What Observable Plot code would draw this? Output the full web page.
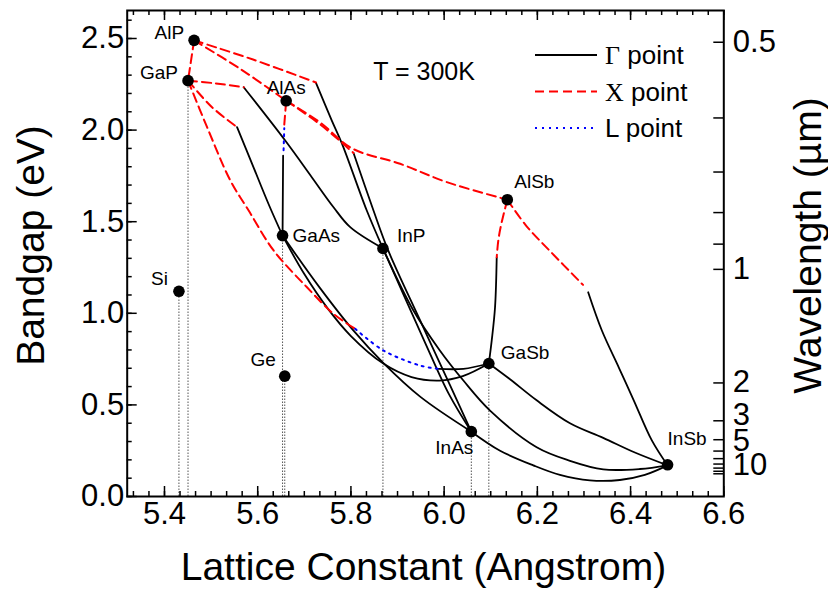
<!DOCTYPE html>
<html><head><meta charset="utf-8">
<script src="https://cdn.jsdelivr.net/npm/d3@7"></script>
<script src="https://cdn.jsdelivr.net/npm/@observablehq/plot@0.6"></script>
<style>body{margin:0;background:#fff}</style>
</head><body><div id="chart"></div>
<script>
// ---------- Binary compounds (lattice constant Å, bandgap eV at 300 K) ----------
const compounds = ["AlP","GaP","AlAs","GaAs","InP","AlSb","GaSb","InAs","InSb","Si","Ge"];
const latticeA  = [5.4635,5.4505,5.6611,5.6533,5.8687,6.1355,6.0959,6.0583,6.4794,5.431,5.658];
const gapEV     = [2.49,2.27,2.16,1.424,1.354,1.62,0.726,0.354,0.173,1.12,0.657];
const dropLines = ["Si","GaP","GaAs","Ge","InP","InAs","GaSb"];

// ---------- Ternary alloy curves: [lattice constant, bandgap] ----------
const AlGaP_X  = [[5.4635,2.49],[5.4505,2.27]];
const AlPAs_X  = [[5.4635,2.49],[5.565,2.33],[5.6611,2.16]];
const AlInP_X  = [[5.4635,2.49],[5.59,2.385],[5.725,2.26]];
const AlInP_G  = [[5.725,2.258],[5.759,2.052],[5.781,1.925],[5.834,1.561],[5.8687,1.354]];
const GaInP_X  = [[5.4505,2.27],[5.51,2.255],[5.570,2.234]];
const GaInP_G  = [[5.570,2.234],[5.659,1.943],[5.716,1.743],[5.7627,1.579],[5.7985,1.470],[5.8687,1.354]];
const GaAsP_X  = [[5.4505,2.27],[5.502,2.125],[5.5557,2.016]];
const GaAsP_G  = [[5.5557,2.016],[5.588,1.816],[5.623,1.598],[5.6533,1.424]];
const GaPSb_X  = [[5.4505,2.27],[5.4914,2.016],[5.5413,1.725],[5.5806,1.561],[5.6341,1.343],[5.7057,1.142],[5.7627,0.997],[5.8092,0.915]];
const GaPSb_L  = [[5.8092,0.915],[5.8698,0.797],[5.9485,0.715],[5.9877,0.697]];
const GaPSb_G  = [[5.9877,0.697],[6.0412,0.697],[6.0959,0.726]];
const AlGaAs_G = [[5.6533,1.424],[5.6545,1.86]];
const AlGaAs_L = [[5.6555,1.89],[5.657,2.01]];
const AlGaAs_X = [[5.657,2.03],[5.6611,2.16]];
const AlInAs_X = [[5.6611,2.16],[5.734,2.031],[5.8056,1.875]];
const AlInAs_G = [[5.8056,1.875],[5.8484,1.561],[5.8800,1.343],[5.9485,0.961],[6.0128,0.606],[6.0583,0.354]];
const AlAsSb_X = [[5.6611,2.16],[5.7342,2.041],[5.8027,1.90],[5.9056,1.816],[6.0057,1.716],[6.1355,1.62]];
const InPAs_G  = [[5.8687,1.354],[5.915,1.09],[5.96,0.835],[6.01,0.56],[6.0583,0.354]];
const InPSb_G  = [[5.8687,1.354],[5.9341,1.015],[5.99,0.80],[6.0413,0.633],[6.0985,0.469],[6.1985,0.269],[6.27,0.195],[6.3413,0.148],[6.42,0.15],[6.4794,0.17]];
const InAsSb_G = [[6.0583,0.354],[6.12,0.25],[6.1913,0.17],[6.2484,0.118],[6.3127,0.088],[6.377,0.09],[6.4306,0.118],[6.4794,0.17]];
const GaInAs_G = [[5.6533,1.424],[5.7342,1.136],[5.8056,0.905],[5.8698,0.728],[5.9485,0.545],[6.0583,0.354]];
const GaAsSb_G = [[5.6533,1.424],[5.70,1.214],[5.75,1.027],[5.80,0.876],[5.8687,0.727],[5.93,0.652],[5.99,0.633],[6.04,0.657],[6.0959,0.726]];
const GaInSb_G = [[6.0959,0.726],[6.1413,0.64],[6.1985,0.525],[6.27,0.40],[6.3413,0.32],[6.4092,0.24],[6.4794,0.17]];
const AlGaSb_X = [[6.1355,1.62],[6.122,1.48],[6.1162,1.397],[6.1128,1.306]];
const AlGaSb_G = [[6.1128,1.306],[6.1092,1.033],[6.1021,0.852],[6.0959,0.726]];
const AlInSb_X = [[6.1355,1.62],[6.177,1.475],[6.227,1.34],[6.298,1.155]];
const AlInSb_G = [[6.309,1.115],[6.3384,0.906],[6.3748,0.704],[6.407,0.524],[6.4456,0.306],[6.4794,0.17]];

// ---------- Axis ticks ----------
const xMajorTicks = [5.4,5.6,5.8,6.0,6.2,6.4,6.6];
const yMajorTicks = [0,0.5,1.0,1.5,2.0,2.5];
const wavelengthTicks  = [0.5,0.6,0.7,0.8,0.9,1,2,3,4,5,6,7,8,9,10];
const wavelengthLabels = [0.5,1,2,3,5,10];

// ---------- Build tables ----------
const segments = [
  ["AlGaP","X",AlGaP_X],["AlPAs","X",AlPAs_X],["AlInP","X",AlInP_X],["AlInP","G",AlInP_G],
  ["GaInP","X",GaInP_X],["GaInP","G",GaInP_G],["GaAsP","X",GaAsP_X],["GaAsP","G",GaAsP_G],
  ["GaPSb","X",GaPSb_X],["GaPSb","L",GaPSb_L],["GaPSb","G",GaPSb_G],
  ["AlGaAs","G",AlGaAs_G],["AlGaAs","L",AlGaAs_L],["AlGaAs","X",AlGaAs_X],
  ["AlInAs","X",AlInAs_X],["AlInAs","G",AlInAs_G],["AlAsSb","X",AlAsSb_X],
  ["InPAs","G",InPAs_G],["InPSb","G",InPSb_G],["InAsSb","G",InAsSb_G],
  ["GaInAs","G",GaInAs_G],["GaAsSb","G",GaAsSb_G],["GaInSb","G",GaInSb_G],
  ["AlGaSb","X",AlGaSb_X],["AlGaSb","G",AlGaSb_G],["AlInSb","X",AlInSb_X],["AlInSb","G",AlInSb_G]
];
const rows = segments.flatMap(([alloy, valley, pts]) =>
  pts.map(([a, E]) => ({id: alloy + "_" + valley, valley, a, E})));
const binaries = compounds.map((name, i) => ({name, a: latticeA[i], E: gapEV[i]}));
const drops = binaries.filter(d => dropLines.includes(d.name));

const hc = 1.2398; // eV·µm
const xMinor = d3.range(-3, 37).map(k => 5.4 + k * 0.2 / 6).filter(v => v >= 5.32 && v <= 6.6001);
const yMinor = d3.range(0, 27).map(k => k / 10);

// ---------- Layout ----------
const W = 828, H = 602, mL = 126.7, mR = 104.7, mT = 10, mB = 106;
const fw = W - mL - mR, fh = H - mT - mB;
const FONT = "Liberation Sans, Arial, Helvetica, sans-serif";

const labelStyle = {
  AlP:{dx:-10,dy:-7,anchor:"end"}, GaP:{dx:-10,dy:-8,anchor:"end"},
  AlAs:{dx:0,dy:-13,anchor:"middle"}, GaAs:{dx:10,dy:0,anchor:"start"},
  InP:{dx:14,dy:-13,anchor:"start"}, Si:{dx:-11,dy:-12,anchor:"end"},
  Ge:{dx:-9,dy:-16,anchor:"end"}, AlSb:{dx:7,dy:-18,anchor:"start"},
  GaSb:{dx:12,dy:-11,anchor:"start"}, InAs:{dx:2,dy:16,anchor:"end"},
  InSb:{dx:0,dy:-26,anchor:"start"}
};
// vertical nudges of crowded wavelength labels (as in the reference)
const wlNudge = {0.5: 0, 1: 0, 2: -1, 3: -6, 5: -10, 10: -9};

const lineMark = (valley, opts) => Plot.line(rows.filter(r => r.valley === valley),
  {x: "a", y: "E", z: "id", curve: "catmull-rom", fill: "none", ...opts});

const plot = Plot.plot({
  width: W, height: H,
  marginLeft: mL, marginRight: mR, marginTop: mT, marginBottom: mB,
  x: {domain: [5.32, 6.6], axis: null},
  y: {domain: [0, (H - mB - mT) / 183.2], axis: null},
  style: {fontFamily: FONT, background: "white"},
  marks: [
    Plot.ruleX(drops, {x: "a", y1: 0, y2: "E", stroke: "#555", strokeWidth: 1, strokeDasharray: "1.5,1.5"}),
    lineMark("G", {stroke: "black", strokeWidth: 1.8}),
    lineMark("X", {stroke: "#ff0000", strokeWidth: 2, strokeDasharray: "9,5"}),
    lineMark("L", {stroke: "#0000ff", strokeWidth: 2, strokeDasharray: "2,5"}),
    Plot.dot(binaries, {x: "a", y: "E", r: 5.8, fill: "black", stroke: "none"}),
    ...compounds.map(name => {
      const s = labelStyle[name];
      return Plot.text(binaries.filter(d => d.name === name),
        {x: "a", y: "E", text: "name", dx: s.dx, dy: s.dy, textAnchor: s.anchor, fontSize: 19, fill: "black"});
    }),
    Plot.frame({stroke: "black", strokeWidth: 2}),
    Plot.tickX(xMajorTicks, {x: d => d, insetTop: fh - 10, stroke: "black", strokeWidth: 1.5}),
    Plot.tickX(xMinor, {x: d => d, insetTop: fh - 5, stroke: "black", strokeWidth: 1.5}),
    Plot.tickX(xMajorTicks, {x: d => d, insetBottom: fh - 10, stroke: "black", strokeWidth: 1.5}),
    Plot.tickX(xMinor, {x: d => d, insetBottom: fh - 5, stroke: "black", strokeWidth: 1.5}),
    Plot.tickY(yMajorTicks, {y: d => d, insetRight: fw - 10, stroke: "black", strokeWidth: 1.5}),
    Plot.tickY(yMinor, {y: d => d, insetRight: fw - 5, stroke: "black", strokeWidth: 1.5}),
    Plot.tickY(wavelengthTicks, {y: d => hc / d, insetLeft: fw - 10, stroke: "black", strokeWidth: 1.5}),
    Plot.text(xMajorTicks, {x: d => d, frameAnchor: "bottom", dy: 27, text: d => d.toFixed(1), fontSize: 31, fill: "black"}),
    Plot.text(yMajorTicks, {y: d => d, frameAnchor: "left", dx: -3, textAnchor: "end", text: d => d.toFixed(1), fontSize: 31, fill: "black"}),
    ...wavelengthLabels.map(w => Plot.text([w], {y: d => hc / d, frameAnchor: "right", dx: 9, dy: wlNudge[w],
      textAnchor: "start", text: d => String(d), fontSize: 31, fill: "black"})),
    Plot.text(["Lattice Constant (Angstrom)"], {frameAnchor: "bottom", dy: 83, dx: -2, textAnchor: "middle", fontSize: 39, fill: "black"}),
    Plot.text(["Bandgap (eV)"], {frameAnchor: "left", dx: -96, dy: -8, textAnchor: "middle", rotate: -90, fontSize: 39, fill: "black"}),
    Plot.text(["Wavelength (µm)"], {frameAnchor: "right", dx: 85, dy: -8, textAnchor: "middle", rotate: -90, fontSize: 39, fill: "black"}),
    Plot.text(["T = 300K"], {frameAnchor: "top-left", dx: 246, dy: 52, textAnchor: "start", fontSize: 25, fill: "black"})
  ]
});

// ---------- Legend ----------
const legendItems = [
  {sym: "Γ", serif: true,  stroke: "black",   dash: null,  w: 1.8},
  {sym: "X", serif: true,  stroke: "#ff0000", dash: "9,5", w: 2},
  {sym: "L", serif: false, stroke: "#0000ff", dash: "2,5", w: 2}
];
const svg = d3.select(plot);
const lg = svg.append("g").attr("text-anchor", "start");
legendItems.forEach((it, i) => {
  const y = 55 + i * 36.5;
  lg.append("line").attr("x1", 535).attr("x2", 597).attr("y1", y).attr("y2", y)
    .attr("stroke", it.stroke).attr("stroke-width", it.w)
    .attr("stroke-dasharray", it.dash);
  const t = lg.append("text").attr("x", 605).attr("y", y).attr("dy", "0.35em")
    .attr("text-anchor", "start").attr("font-size", 26).attr("fill", "black");
  t.append("tspan").attr("font-family", it.serif ? "Liberation Serif, Times New Roman, serif" : FONT).text(it.sym);
  t.append("tspan").attr("font-family", FONT).text(" point");
});
document.getElementById("chart").appendChild(plot);
</script>
</body></html>
